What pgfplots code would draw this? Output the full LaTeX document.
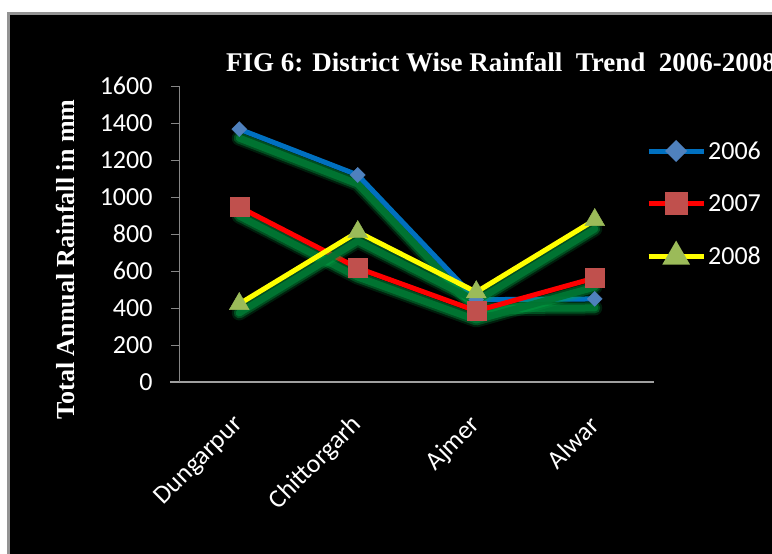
\documentclass[border=0pt]{standalone}
\usepackage{pgfplots}
\pgfplotsset{compat=1.18}
\usepackage{pgfplotstable}
\usepackage{fontspec}
\setmainfont{Liberation Serif}
\newfontfamily\carlito{Carlito}
\definecolor{lblue}{HTML}{0070C0}
\definecolor{mblue}{HTML}{4F81BD}
\definecolor{lred}{HTML}{FF0000}
\definecolor{mred}{HTML}{C0504D}
\definecolor{lyel}{HTML}{FFFF00}
\definecolor{mgreen}{HTML}{9BBB59}
\definecolor{axgray}{HTML}{868686}
\definecolor{glowA}{RGB}{0,170,70}
\definecolor{glowB}{RGB}{0,118,50}

\pgfplotstableread{
x y2006 y2007 y2008
0 1367 946 422
1 1119 616 811
2 445 384 486
3 449 562 876
}\data

\begin{document}
\begin{tikzpicture}[x=1pt,y=1pt]
\clip (0,0) rectangle (772,-554);
\fill[white] (0,0) rectangle (772,-554);
\filldraw[fill=black, draw=gray!85, line width=3pt] (8,-13) rectangle (790,-570);
\node[anchor=base west, text=white, inner sep=0pt, font=\bfseries\fontsize{27}{27}\selectfont] at (226,-71.5) {FIG 6: District Wise Rainfall\ \ Trend\ \ 2006-2008};
\begin{axis}[
  at={(180pt,-382pt)}, anchor=south west,
  scale only axis, width=474pt, height=296pt,
  xmin=-0.5, xmax=3.5, ymin=0, ymax=1600,
  clip=false,
  axis lines*=left,
  x axis line style={draw=gray!75, line width=2pt, shorten <=-10pt},
  y axis line style={draw=axgray, line width=1pt},
  xtick={0,1,2,3},
  xticklabels={Dungarpur,Chittorgarh,Ajmer,Alwar},
  ytick={0,200,...,1600},
  x tick style={draw=none},
  y tick style={draw=axgray, line width=1pt},
  tick align=outside,
  major tick length=9pt,
  /pgf/number format/assume math mode=true,
  /pgf/number format/set thousands separator={},
  ticklabel style={font=\carlito\fontsize{26}{26}\selectfont, text=white},
  yticklabel style={xshift=-15pt},
  xticklabel style={yshift=-30pt, rotate=45, anchor=east, inner sep=0pt},
  ylabel={Total Annual Rainfall in mm},
  every axis y label/.style={at={(axis description cs:-0.2426,0.414)}, anchor=center, rotate=90, text=white, font=\bfseries\fontsize{26}{26}\selectfont},
  legend style={at={(axis description cs:0.983,0.82)}, anchor=north west, draw=none, fill=none, text=white,
    font=\carlito\fontsize{26}{26}\selectfont, row sep=30pt, inner sep=0pt, nodes={inner sep=2pt}},
  legend cell align=left,
  legend image code/.code={\draw[mark repeat=2,mark phase=2,#1] plot coordinates {(0pt,0pt)(27.5pt,0pt)(55pt,0pt)};},
  glow/.style={forget plot, yshift=-9pt, line join=round, line cap=round, no marks},
]
% 2006
\addplot[glow, draw=glowA, line width=15pt, draw opacity=0.18] table[x=x,y=y2006]{\data};
\addplot[glow, draw=glowA, line width=11pt, draw opacity=0.35] table[x=x,y=y2006]{\data};
\addplot[glow, draw=glowB, line width=7pt, draw opacity=0.95] table[x=x,y=y2006]{\data};
\addplot[forget plot, draw=lblue, line width=5pt, line join=round, no marks] table[x=x,y=y2006]{\data};
% 2007
\addplot[glow, draw=glowA, line width=15pt, draw opacity=0.18] table[x=x,y=y2007]{\data};
\addplot[glow, draw=glowA, line width=11pt, draw opacity=0.35] table[x=x,y=y2007]{\data};
\addplot[glow, draw=glowB, line width=7pt, draw opacity=0.95] table[x=x,y=y2007]{\data};
\addplot[forget plot, draw=lred, line width=5pt, line join=round, no marks] table[x=x,y=y2007]{\data};
% 2008
\addplot[glow, draw=glowA, line width=15pt, draw opacity=0.18] table[x=x,y=y2008]{\data};
\addplot[glow, draw=glowA, line width=11pt, draw opacity=0.35] table[x=x,y=y2008]{\data};
\addplot[glow, draw=glowB, line width=7pt, draw opacity=0.95] table[x=x,y=y2008]{\data};
\addplot[forget plot, draw=lyel, line width=5pt, line join=round, no marks] table[x=x,y=y2008]{\data};
% markers
\addplot[forget plot, only marks, mark=square*, mark size=5.3pt, mark options={rotate=45, fill=mblue, draw=mblue}] table[x=x,y=y2006]{\data};
\addplot[forget plot, only marks, mark=square*, mark size=9.5pt, mark options={fill=mred, draw=mred}] table[x=x,y=y2007]{\data};
\addplot[forget plot, only marks, mark=triangle*, mark size=11.5pt, mark options={fill=mgreen, draw=mgreen}] table[x=x,y=y2008]{\data};
% legend
\addlegendimage{draw=lblue, line width=5pt, mark=square*, mark size=5.3pt, mark options={rotate=45, fill=mblue, draw=mblue}}
\addlegendentry{2006}
\addlegendimage{draw=lred, line width=5pt, mark=square*, mark size=9pt, mark options={fill=mred, draw=mred}}
\addlegendentry{2007}
\addlegendimage{draw=lyel, line width=5pt, mark=triangle*, mark size=11pt, mark options={fill=mgreen, draw=mgreen}}
\addlegendentry{2008}
\end{axis}
\end{tikzpicture}
\end{document}
